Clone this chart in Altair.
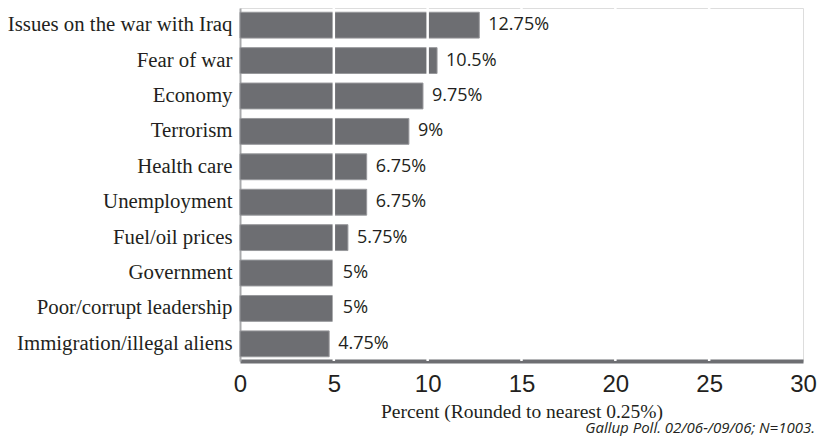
import altair as alt
import pandas as pd

categories = ["Issues on the war with Iraq", "Fear of war", "Economy", "Terrorism",
              "Health care", "Unemployment", "Fuel/oil prices", "Government",
              "Poor/corrupt leadership", "Immigration/illegal aliens"]
values = [12.75, 10.5, 9.75, 9, 6.75, 6.75, 5.75, 5, 5, 4.75]
x_ticks = [0, 5, 10, 15, 20, 25, 30]
grid_values = [5, 10, 15, 20, 25]
x_title = "Percent (Rounded to nearest 0.25%)"
footnote = "Gallup Poll. 02/06-/09/06; N=1003."

df = pd.DataFrame({"cat": categories, "val": values})
df["label"] = [f"{v:g}%" for v in values]

W, H = 563, 353
xscale = alt.Scale(domain=[0, 30], nice=False)
yscale = alt.Scale(paddingInner=0.27, paddingOuter=0.12)

base = alt.Chart(df)

bars = base.mark_bar(color="#6d6e72", stroke="#97989b", strokeWidth=1).encode(
    x=alt.X("val:Q", scale=xscale,
            axis=alt.Axis(values=x_ticks, grid=False, ticks=False, domain=True,
                          domainColor="#6d6e72", domainWidth=4,
                          labelFont="Liberation Sans", labelFontSize=24,
                          labelColor="#231f20", labelPadding=11,
                          labelFlush=False,
                          title=x_title, titleFont="Liberation Serif",
                          titleFontSize=19.5, titleFontWeight="normal",
                          titleColor="#231f20", titleY=56,
                          titleBaseline="alphabetic")),
    y=alt.Y("cat:N", sort=categories, scale=yscale,
            axis=alt.Axis(title=None, ticks=False, domain=True,
                          domainColor="#a8a9ab", domainWidth=2,
                          labelFont="Liberation Serif", labelFontSize=20.8,
                          labelColor="#231f20", labelPadding=8,
                          labelLimit=400)),
)

grid = alt.Chart(pd.DataFrame({"g": grid_values})).mark_rule(
    color="white", strokeWidth=2.5).encode(x=alt.X("g:Q", scale=xscale))

text = base.mark_text(align="left", baseline="middle", dx=9,
                      font="Open Sans", fontSize=18, color="#231f20").encode(
    x=alt.X("val:Q", scale=xscale),
    y=alt.Y("cat:N", sort=categories, scale=yscale),
    text="label:N",
)

note = alt.Chart(pd.DataFrame({"t": [footnote]})).mark_text(
    align="right", baseline="alphabetic", font="Open Sans", fontStyle="italic",
    fontSize=15, color="#231f20").encode(
    x=alt.value(W + 12), y=alt.value(H + 72), text="t:N")

chart = alt.layer(bars, grid, text, note).properties(
    width=W, height=H,
    autosize=alt.AutoSizeParams(type="none"),
    padding={"left": 232, "top": 0, "right": 15, "bottom": 75},
).configure_view(fill="#f0f1f3", stroke=None).configure(background="white")

chart.save("out.html", embed_options={"renderer": "svg", "actions": False})
